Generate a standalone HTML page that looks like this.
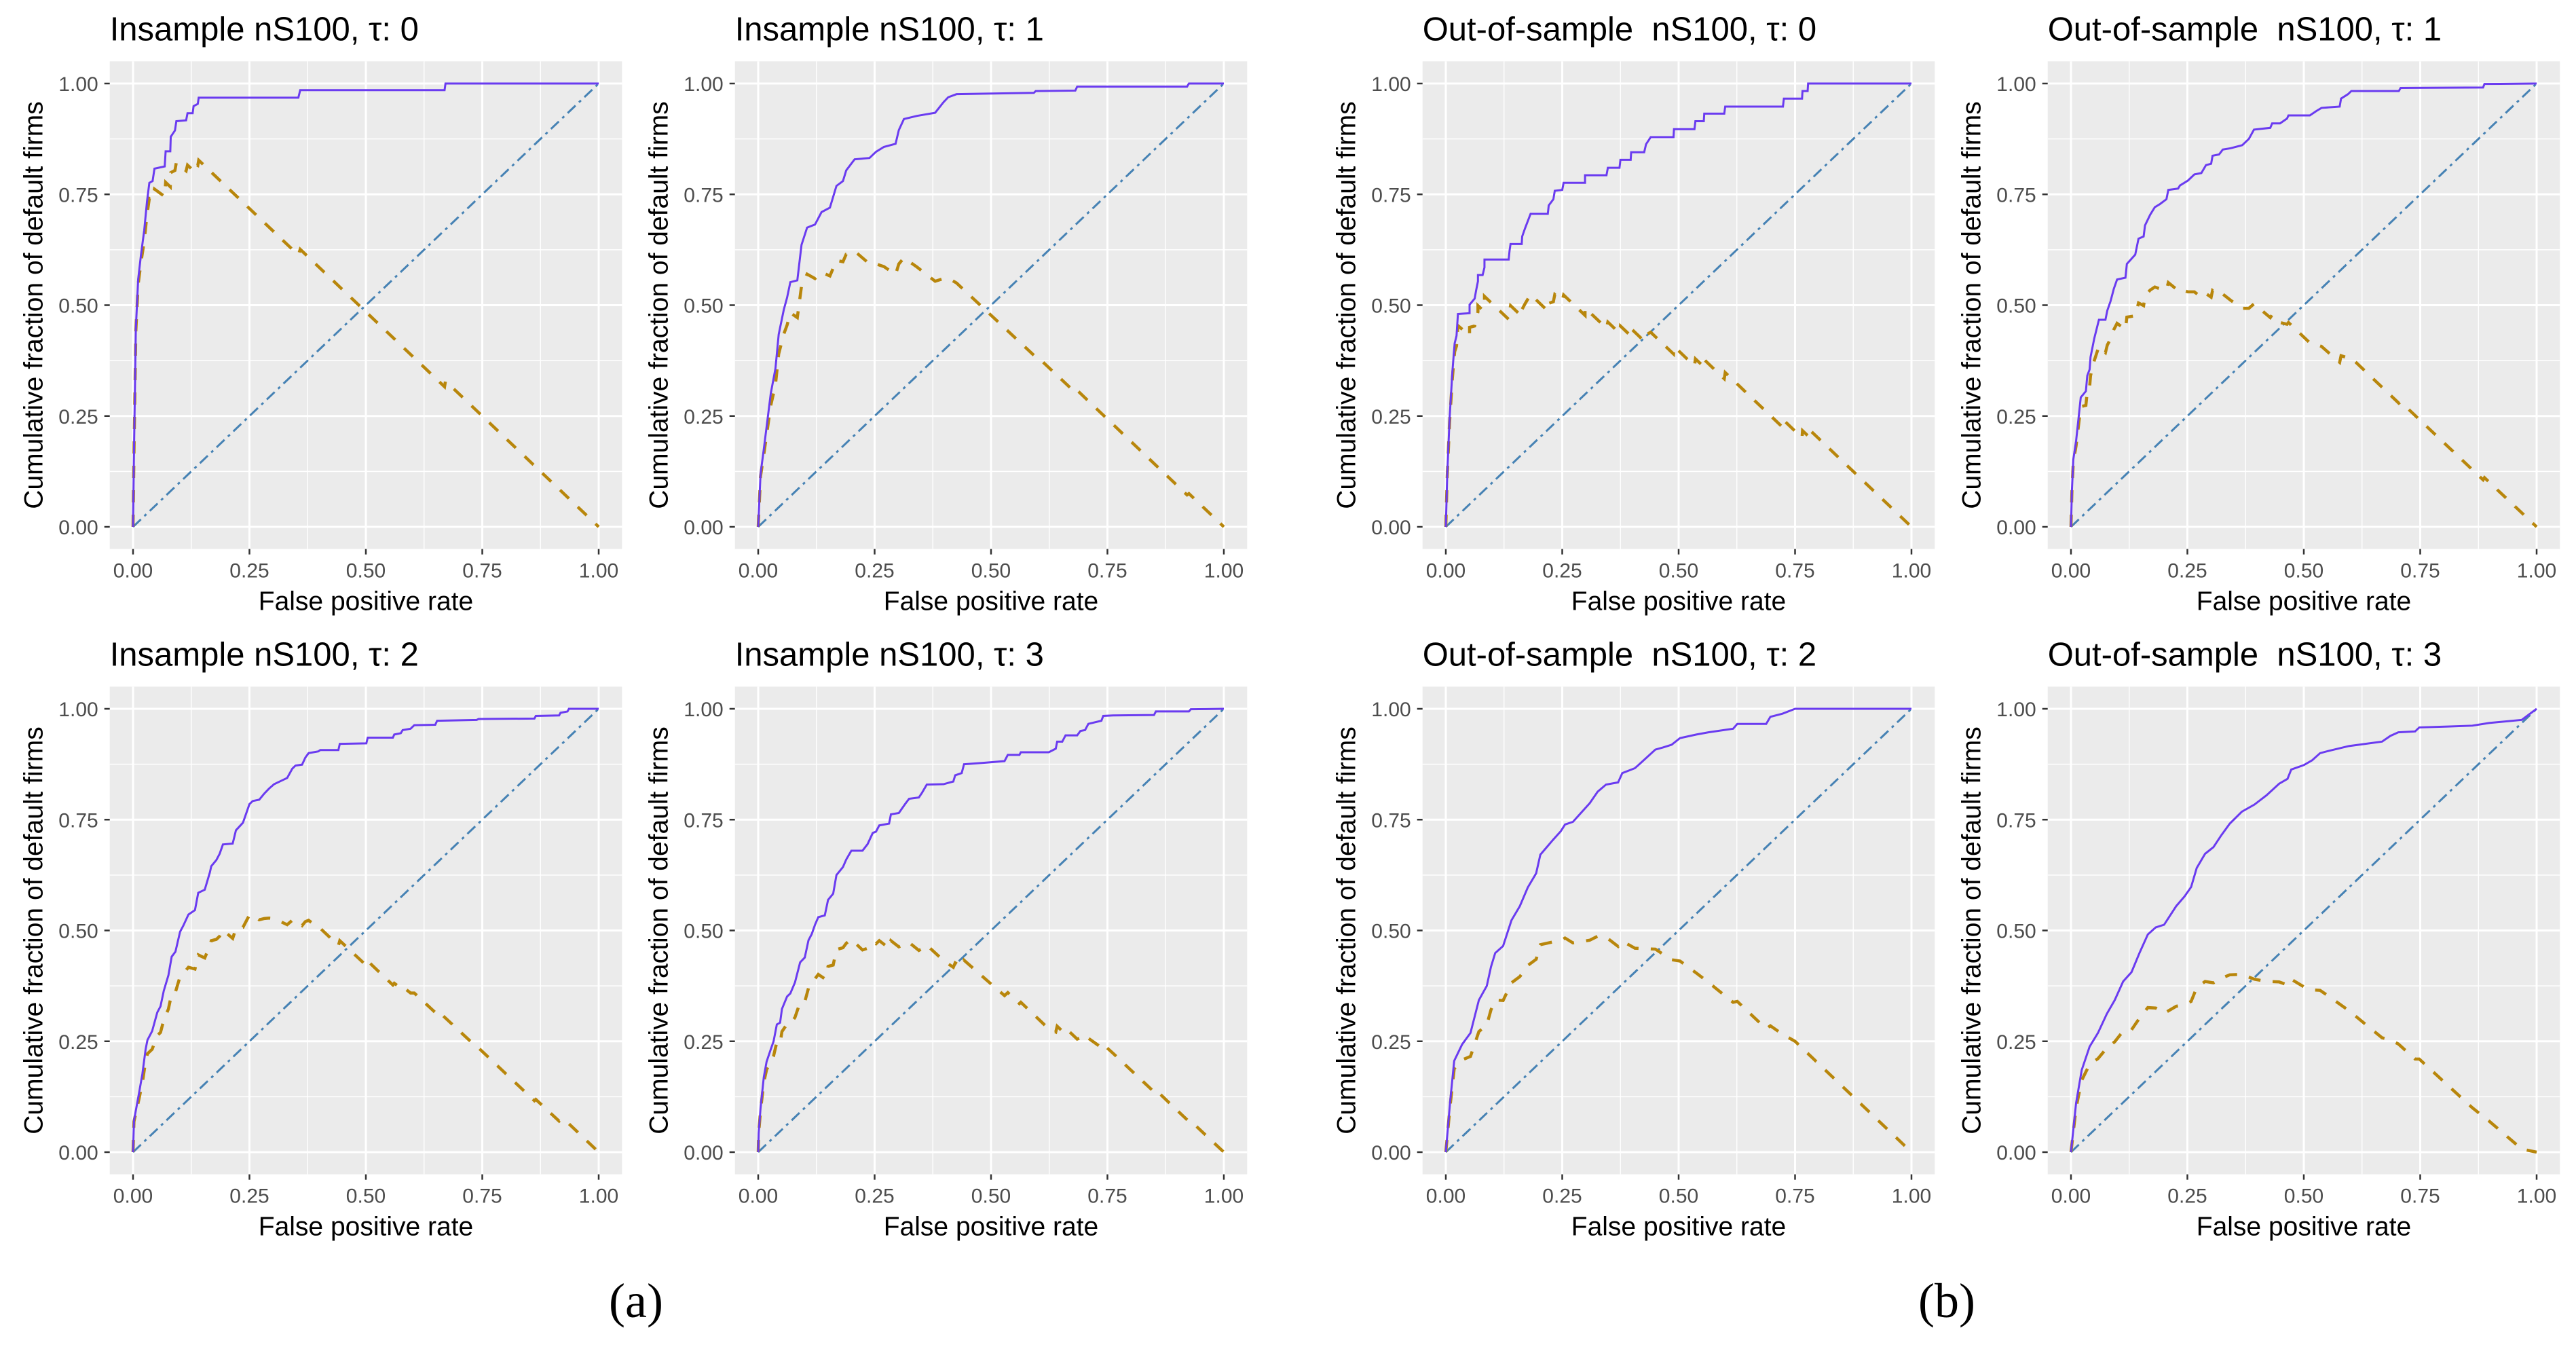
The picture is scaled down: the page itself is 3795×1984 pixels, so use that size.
<!DOCTYPE html>
<html><head><meta charset="utf-8"><style>
html,body{margin:0;padding:0;background:#fff;}
svg{display:block;}
text{font-family:"Liberation Sans",Arial,sans-serif;white-space:pre;}
</style></head><body>
<svg id="chart" width="3795" height="1984" viewBox="0 0 3795 1984" xmlns="http://www.w3.org/2000/svg"></svg>
<script>
// ---- data (false positive rate / true positive rate) ----
const titles = ["Insample nS100, \u03c4: 0","Insample nS100, \u03c4: 1","Out-of-sample  nS100, \u03c4: 0","Out-of-sample  nS100, \u03c4: 1",
"Insample nS100, \u03c4: 2","Insample nS100, \u03c4: 3","Out-of-sample  nS100, \u03c4: 2","Out-of-sample  nS100, \u03c4: 3"];
const tickValues = [0,0.25,0.5,0.75,1];
const tickLabels = ["0.00","0.25","0.50","0.75","1.00"];
const fpr0=[0,0.002,0.006,0.011,0.017,0.024,0.03,0.035,0.042,0.046,0.068,0.07,0.08,0.081,0.09,0.093,0.114,0.117,0.128,0.13,0.139,0.141,0.355,0.359,0.669,0.671,1];
const tpr0=[0,0.168,0.447,0.558,0.613,0.669,0.734,0.776,0.78,0.808,0.813,0.847,0.847,0.88,0.894,0.915,0.917,0.933,0.933,0.949,0.954,0.968,0.968,0.985,0.985,1,1];
const fpr1=[0,0.005,0.012,0.027,0.037,0.044,0.055,0.062,0.069,0.084,0.093,0.105,0.122,0.136,0.154,0.168,0.182,0.189,0.207,0.239,0.253,0.27,0.295,0.302,0.313,0.341,0.38,0.398,0.408,0.426,0.592,0.596,0.681,0.685,0.921,0.925,1];
const tpr1=[0,0.119,0.175,0.301,0.357,0.434,0.49,0.517,0.552,0.556,0.636,0.675,0.682,0.71,0.72,0.769,0.78,0.804,0.829,0.832,0.846,0.857,0.864,0.895,0.92,0.927,0.934,0.958,0.969,0.976,0.979,0.983,0.984,0.993,0.993,1,1];
const fpr2=[0,0.003,0.008,0.014,0.017,0.019,0.023,0.026,0.051,0.051,0.062,0.065,0.069,0.069,0.079,0.083,0.083,0.135,0.137,0.139,0.163,0.164,0.17,0.182,0.219,0.221,0.231,0.234,0.25,0.253,0.299,0.299,0.345,0.348,0.373,0.375,0.397,0.398,0.426,0.43,0.44,0.489,0.49,0.534,0.536,0.554,0.555,0.598,0.6,0.724,0.726,0.765,0.766,0.777,0.778,1];
const tpr2=[0,0.117,0.243,0.348,0.389,0.414,0.431,0.48,0.482,0.501,0.515,0.533,0.554,0.568,0.568,0.585,0.603,0.603,0.624,0.638,0.638,0.655,0.673,0.706,0.706,0.725,0.739,0.758,0.76,0.776,0.776,0.793,0.793,0.81,0.81,0.828,0.828,0.845,0.845,0.863,0.879,0.879,0.897,0.897,0.915,0.915,0.932,0.932,0.948,0.948,0.966,0.966,0.983,0.983,1,1];
const fpr3=[0,0.002,0.005,0.011,0.016,0.021,0.032,0.035,0.04,0.042,0.05,0.06,0.074,0.078,0.085,0.092,0.099,0.117,0.12,0.138,0.145,0.156,0.159,0.17,0.18,0.191,0.205,0.209,0.23,0.234,0.251,0.265,0.28,0.29,0.301,0.304,0.318,0.326,0.343,0.368,0.382,0.393,0.428,0.432,0.449,0.464,0.467,0.513,0.527,0.538,0.577,0.58,0.595,0.602,0.704,0.708,0.885,0.888,1];
const tpr3=[0,0.082,0.152,0.194,0.243,0.292,0.306,0.341,0.355,0.383,0.425,0.467,0.467,0.488,0.509,0.537,0.558,0.562,0.593,0.614,0.65,0.655,0.68,0.704,0.721,0.728,0.739,0.76,0.763,0.77,0.781,0.795,0.798,0.816,0.819,0.837,0.84,0.851,0.854,0.861,0.875,0.896,0.9,0.91,0.91,0.921,0.928,0.928,0.938,0.945,0.948,0.966,0.976,0.983,0.983,0.99,0.991,0.999,1];
const fpr4=[0,0.002,0.013,0.02,0.027,0.031,0.041,0.052,0.059,0.066,0.076,0.083,0.091,0.101,0.108,0.119,0.133,0.14,0.154,0.165,0.168,0.179,0.186,0.193,0.214,0.221,0.236,0.243,0.25,0.257,0.271,0.282,0.292,0.303,0.317,0.331,0.342,0.349,0.363,0.37,0.377,0.398,0.402,0.441,0.444,0.501,0.504,0.558,0.561,0.575,0.579,0.596,0.604,0.649,0.653,0.738,0.742,0.862,0.865,0.915,0.918,0.933,0.936,1];
const tpr4=[0,0.071,0.134,0.176,0.232,0.253,0.273,0.315,0.329,0.364,0.399,0.441,0.452,0.497,0.511,0.536,0.546,0.585,0.592,0.631,0.645,0.659,0.673,0.694,0.696,0.726,0.743,0.764,0.785,0.792,0.795,0.809,0.82,0.83,0.837,0.844,0.865,0.872,0.874,0.89,0.9,0.904,0.907,0.907,0.921,0.922,0.935,0.935,0.942,0.945,0.952,0.955,0.963,0.964,0.973,0.975,0.977,0.978,0.984,0.985,0.991,0.994,1,1];
const fpr5=[0,0.001,0.005,0.012,0.018,0.027,0.033,0.04,0.047,0.051,0.062,0.069,0.079,0.09,0.1,0.108,0.115,0.122,0.129,0.143,0.15,0.161,0.168,0.182,0.189,0.2,0.224,0.235,0.246,0.253,0.26,0.281,0.285,0.302,0.316,0.324,0.345,0.352,0.362,0.398,0.419,0.423,0.437,0.442,0.483,0.529,0.536,0.561,0.564,0.624,0.639,0.642,0.653,0.66,0.685,0.692,0.702,0.709,0.737,0.741,0.762,0.85,0.854,0.925,0.929,1];
const tpr5=[0,0.043,0.099,0.169,0.204,0.232,0.25,0.288,0.292,0.323,0.351,0.358,0.383,0.428,0.439,0.478,0.492,0.513,0.53,0.534,0.569,0.583,0.625,0.643,0.66,0.68,0.68,0.695,0.72,0.723,0.737,0.741,0.762,0.765,0.786,0.797,0.8,0.811,0.829,0.83,0.836,0.85,0.855,0.875,0.878,0.882,0.896,0.896,0.902,0.902,0.91,0.926,0.926,0.94,0.94,0.95,0.952,0.966,0.973,0.984,0.985,0.986,0.994,0.994,0.999,1];
const fpr6=[0,0.009,0.018,0.035,0.053,0.071,0.088,0.097,0.106,0.123,0.141,0.159,0.176,0.194,0.203,0.212,0.229,0.247,0.256,0.273,0.291,0.309,0.326,0.344,0.37,0.379,0.406,0.423,0.45,0.467,0.485,0.503,0.538,0.564,0.617,0.626,0.688,0.697,0.723,0.75,1];
const tpr6=[0,0.111,0.206,0.243,0.269,0.343,0.375,0.418,0.449,0.465,0.523,0.555,0.597,0.629,0.671,0.682,0.703,0.724,0.739,0.745,0.766,0.787,0.813,0.829,0.834,0.855,0.866,0.882,0.908,0.913,0.919,0.934,0.942,0.947,0.955,0.966,0.966,0.982,0.989,1,1];
const fpr7=[0,0.011,0.023,0.04,0.058,0.077,0.094,0.112,0.13,0.147,0.165,0.182,0.2,0.226,0.244,0.258,0.27,0.288,0.306,0.323,0.341,0.367,0.394,0.42,0.447,0.465,0.473,0.5,0.518,0.535,0.553,0.597,0.668,0.686,0.703,0.739,0.748,0.809,0.862,0.898,0.968,1];
const tpr7=[0,0.111,0.185,0.238,0.269,0.312,0.343,0.385,0.406,0.449,0.491,0.507,0.513,0.555,0.577,0.598,0.641,0.673,0.688,0.715,0.741,0.768,0.784,0.805,0.831,0.842,0.863,0.873,0.884,0.9,0.905,0.916,0.926,0.939,0.947,0.949,0.958,0.96,0.962,0.968,0.975,1];
const fprSeries=[fpr0,fpr1,fpr2,fpr3,fpr4,fpr5,fpr6,fpr7];
const tprSeries=[tpr0,tpr1,tpr2,tpr3,tpr4,tpr5,tpr6,tpr7];

// ---- layout ----
const colX0=[196,1117,2130,3051], rowY1=[123,1044];
const PW=686, PH=653;
const NS="http://www.w3.org/2000/svg";
const svg=document.getElementById('chart');
function mk(tag,attrs,parent){const e=document.createElementNS(NS,tag);for(const k in attrs)e.setAttribute(k,attrs[k]);(parent||svg).appendChild(e);return e;}

for(let p=0;p<8;p++){
  const x0=colX0[p%4], y1=rowY1[Math.floor(p/4)], y0=y1+PH;
  const sx=v=>x0+v*PW, sy=v=>y0-v*PH;
  const g=mk('g',{});
  
  
  const bl=sx(-0.05), br=sx(1.05), bt=sy(1.05), bb=sy(-0.05);
  const bg=mk('rect',{x:bl,y:bt,width:br-bl,height:bb-bt,fill:'#EBEBEB'},g);
  
  
  for(const v of [0.125,0.375,0.625,0.875]){
    mk('line',{x1:sx(v),x2:sx(v),y1:bt,y2:bb,stroke:'#fff','stroke-width':1.4},g);
    mk('line',{x1:bl,x2:br,y1:sy(v),y2:sy(v),stroke:'#fff','stroke-width':1.4},g);
  }
  tickValues.forEach((v,i)=>{
    mk('line',{x1:sx(v),x2:sx(v),y1:bt,y2:bb,stroke:'#fff','stroke-width':3},g);
    mk('line',{x1:bl,x2:br,y1:sy(v),y2:sy(v),stroke:'#fff','stroke-width':3},g);
    mk('line',{x1:sx(v),x2:sx(v),y1:bb,y2:bb+8,stroke:'#333','stroke-width':2.5},g);
    mk('line',{x1:bl-8,x2:bl,y1:sy(v),y2:sy(v),stroke:'#333','stroke-width':2.5},g);
    const xt=mk('text',{x:sx(v),y:bb+42,'font-size':30,fill:'#4D4D4D','text-anchor':'middle'},g);
    xt.textContent=tickLabels[i];
    
    
    const yt=mk('text',{x:bl-17,y:sy(v)+11,'font-size':30,fill:'#4D4D4D','text-anchor':'end'},g);
    yt.textContent=tickLabels[i];
    
    
  });
  const diag=mk('line',{x1:sx(0),y1:sy(0),x2:sx(1),y2:sy(1),stroke:'#4682B4','stroke-width':3,'stroke-dasharray':'16 7 4 7'},g);
  
  
  const fp=fprSeries[p], tp=tprSeries[p];
  const ks=mk('polyline',{points:fp.map((f,i)=>sx(f)+','+sy(tp[i]-f)).join(' '),fill:'none',stroke:'#B8860B','stroke-width':4.5,'stroke-dasharray':'18 18'},g);
  
  
  const roc=mk('polyline',{points:fp.map((f,i)=>sx(f)+','+sy(tp[i])).join(' '),fill:'none',stroke:'#6A3BF0','stroke-width':3},g);
  
  
  const t=mk('text',{x:bl,y:bt-31,'font-size':49,fill:'#000'},g);
  t.textContent=titles[p];
  
  
  const xl=mk('text',{x:(bl+br)/2,y:bb+90,'font-size':39,fill:'#000','text-anchor':'middle'},g);
  xl.textContent='False positive rate';
  
  
  const yx=bl-99, yc=(bt+bb)/2;
  const yl=mk('text',{x:yx,y:yc,'font-size':39,fill:'#000','text-anchor':'middle',transform:'rotate(-90 '+yx+' '+yc+')'},g);
  yl.textContent='Cumulative fraction of default firms';
  
  
}
const la=mk('text',{x:937,y:1940,'font-size':72,'text-anchor':'middle',style:'font-family:"Liberation Serif",serif'});
la.textContent='(a)';


const lb=mk('text',{x:2868,y:1940,'font-size':72,'text-anchor':'middle',style:'font-family:"Liberation Serif",serif'});
lb.textContent='(b)';


</script>
</body></html>
